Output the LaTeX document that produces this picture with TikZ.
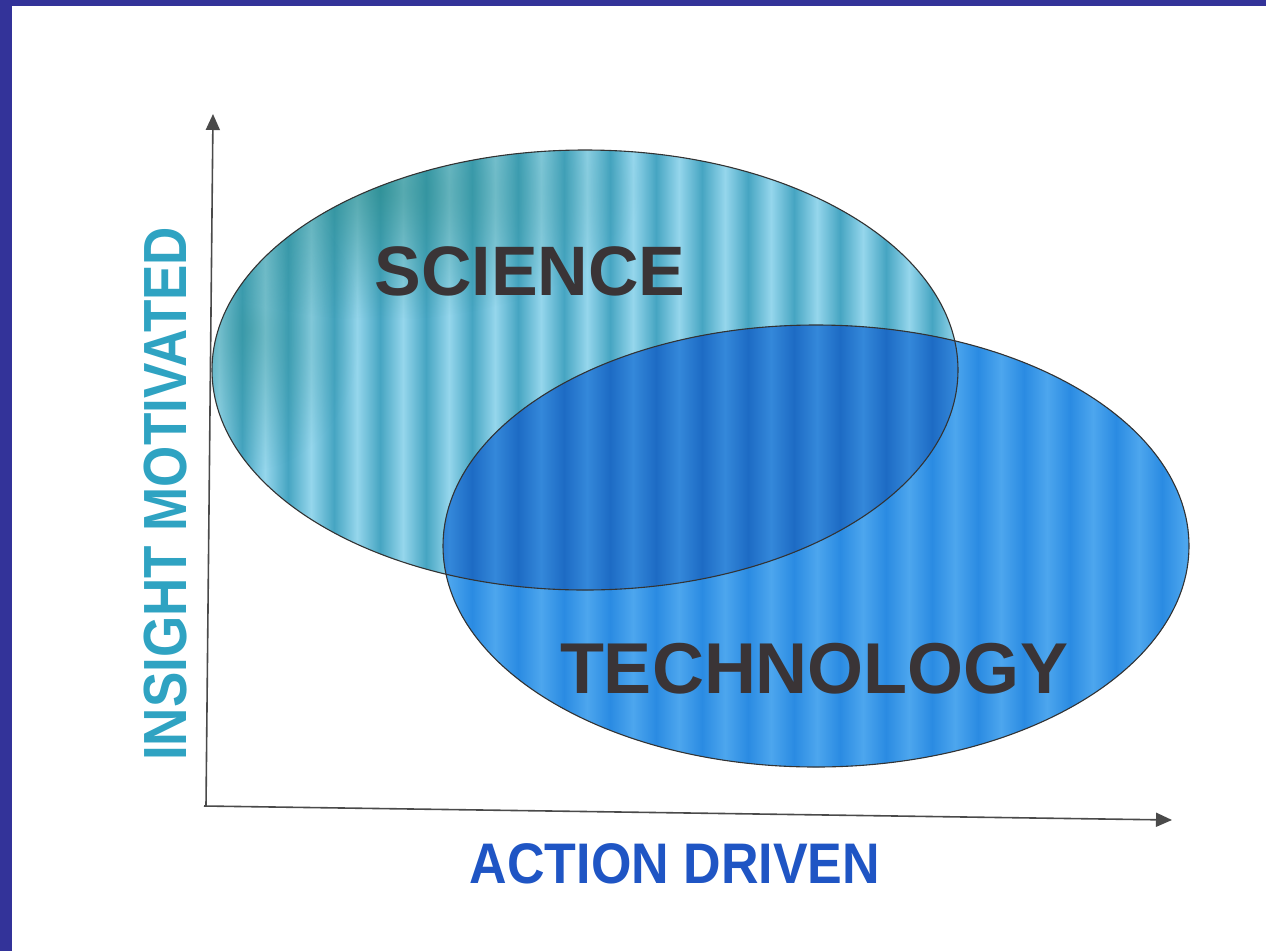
\documentclass[tikz,border=0pt]{standalone}
\usepackage{fontspec}
\setmainfont{Liberation Sans}
\usetikzlibrary{arrows.meta,fadings}

\definecolor{framecol}{HTML}{333399}
\definecolor{scibase}{HTML}{46A5C2}
\definecolor{scilight}{HTML}{95D6EC}
\definecolor{scidark}{HTML}{24867F}
\definecolor{techbase}{HTML}{2A8BE2}
\definecolor{techlight}{HTML}{4DA6EE}
\definecolor{ovbase}{HTML}{1D6BC4}
\definecolor{ovlight}{HTML}{3488DA}
\definecolor{wordcol}{HTML}{3A3436}
\definecolor{insightcol}{HTML}{2FA3C2}
\definecolor{actioncol}{HTML}{1F55C4}
\definecolor{axiscol}{HTML}{4A4A4A}

% opaque centre, transparent rim
\tikzfading[name=softspot, inner color=transparent!0, outer color=transparent!100]

% vertical light bands across a region, period 46pt
\newcommand\bandfill[2]{%
  \foreach \k in {0,...,23}{%
    \shade[left color=#1, right color=#1, middle color=#2]
      ({196+46*\k},100) rectangle ({242+46*\k},800);
  }%
}

\tikzset{
  axisline/.style={draw=axiscol, line width=1.6pt,
    -{Triangle[length=16pt,width=14pt]}},
  rim/.style={draw=black!80, line width=1.1pt},
  bigword/.style={text=wordcol, inner sep=0pt, anchor=base},
}

\begin{document}
\begin{tikzpicture}[x=1pt,y=-1pt]
\useasboundingbox (0,0) rectangle (1266,951);
\fill[white] (0,0) rectangle (1266,951);
% blue frame along top and left edge
\fill[framecol] (0,0) rectangle (1266,6);
\fill[framecol] (0,0) rectangle (12,951);

% science ellipse
\begin{scope}
  \clip (585,370) ellipse [x radius=373, y radius=220];
  \fill[scibase] (200,140) rectangle (970,600);
  \bandfill{scibase}{scilight}
  % darker greenish tone towards the upper left
  \fill[scidark, opacity=0.6, path fading=softspot]
    (380,190) ellipse [x radius=260, y radius=130];
  \fill[scidark, opacity=0.4, path fading=softspot]
    (250,330) ellipse [x radius=110, y radius=140];
\end{scope}

% technology ellipse
\begin{scope}
  \clip (816,546) ellipse [x radius=373, y radius=221];
  \fill[techbase] (430,320) rectangle (1200,780);
  \bandfill{techbase}{techlight}
\end{scope}

% overlap of the two
\begin{scope}
  \clip (585,370) ellipse [x radius=373, y radius=220];
  \clip (816,546) ellipse [x radius=373, y radius=221];
  \fill[ovbase] (430,320) rectangle (970,600);
  \bandfill{ovbase}{ovlight}
\end{scope}

% outlines
\draw[rim] (585,370) ellipse [x radius=373, y radius=220];
\draw[rim] (816,546) ellipse [x radius=373, y radius=221];

% axes
\coordinate (origin) at (206,806);
\coordinate (ytip) at (213,114);
\coordinate (xtip) at (1172,820);
\draw[axisline] (origin) -- (ytip);
\draw[axisline] ([xshift=-2pt]origin) -- (xtip);

% labels
\node[bigword] (sci) at (530,295) {\fontsize{70}{70}\selectfont\bfseries SCIENCE};
\node[bigword] (tech) at (814,693) {\fontsize{72}{72}\selectfont\bfseries TECHNOLOGY};
\node[text=insightcol, inner sep=0pt, anchor=base, rotate=90] (ins) at (186,494)
  {\scalebox{1}[1.15]{\fontsize{53}{53}\selectfont\bfseries INSIGHT MOTIVATED}};
\node[text=actioncol, inner sep=0pt, anchor=base] (act) at (675,883)
  {\scalebox{1}[1.1]{\fontsize{52}{52}\selectfont\bfseries ACTION DRIVEN}};
\end{tikzpicture}
\end{document}
